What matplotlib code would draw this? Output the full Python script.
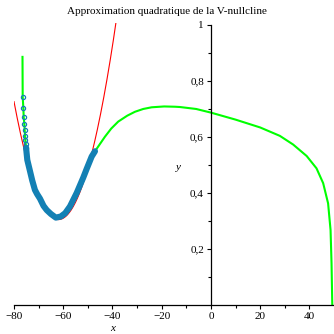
import numpy as np
import matplotlib
matplotlib.use("Agg")
import matplotlib.pyplot as plt

# V-nullcline w(V), sampled along the curve
nullcline_v = [-76.55, -76.47, -76.2, -76.06, -75.8, -75.65, -75.53, -75.4, -75.24, -75.1,
               -74.6, -73.5, -72.6, -71.5, -70.6, -69.45, -68.0, -66.7, -65.0, -63.0,
               -61.0, -59.2, -57.26, -54.54, -51.86, -50.48, -48.45, -47.1, -45.0, -43.05,
               -40.5, -37.65, -34.0, -30.86, -27.5, -24.08, -19.0, -14.6, -12.6, -6.0,
               0.0, 10.0, 20.0, 28.0, 33.4, 38.9, 42.9, 45.6, 47.6, 48.6, 49.0, 49.3]
nullcline_w = [0.886, 0.744, 0.703, 0.671, 0.646, 0.624, 0.605, 0.589, 0.575, 0.562,
               0.518, 0.478, 0.445, 0.411, 0.396, 0.380, 0.354, 0.339, 0.325, 0.312,
               0.316, 0.328, 0.352, 0.400, 0.455, 0.486, 0.530, 0.549, 0.576, 0.601,
               0.630, 0.655, 0.676, 0.690, 0.700, 0.706, 0.709, 0.708, 0.707, 0.700,
               0.687, 0.662, 0.634, 0.604, 0.573, 0.532, 0.488, 0.435, 0.363, 0.268,
               0.149, 0.0]

# Points of the nullcline used for the fit (sparse at the top, dense below)
fit_sparse_v = [-76.47, -76.2, -76.06, -75.8, -75.65, -75.53, -75.4, -75.24, -75.1]
fit_sparse_w = [0.744, 0.703, 0.671, 0.646, 0.624, 0.605, 0.589, 0.575, 0.562]
fit_dense_v = [-75.1, -74.6, -73.5, -72.6, -71.5, -70.6, -69.45, -68.0, -66.7, -65.0,
               -63.0, -61.0, -59.2, -57.26, -54.54, -51.86, -50.48, -48.45, -47.1]
fit_dense_w = [0.562, 0.518, 0.478, 0.445, 0.411, 0.396, 0.380, 0.354, 0.339, 0.325,
               0.312, 0.316, 0.328, 0.352, 0.400, 0.455, 0.486, 0.530, 0.549]

# Quadratic approximation w = a (V - v0)^2 + w0
quad_a = 0.00129
quad_v0 = -61.93
quad_w0 = 0.305

x_ticks = [-80, -60, -40, -20, 0, 20, 40]
x_tick_labels = ["\u221280", "\u221260", "\u221240", "\u221220", "0", "20", "40"]
x_minor = [-70, -50, -30, -10, 10, 30]
y_ticks = [0.2, 0.4, 0.6, 0.8, 1.0]
y_tick_labels = ["0,2", "0,4", "0,6", "0,8", "1"]
y_minor = [0.1, 0.3, 0.5, 0.7, 0.9]

plt.rcParams["font.family"] = ["Liberation Serif", "DejaVu Serif"]

W, H = 334, 334
fig = plt.figure(figsize=(W / 100, H / 100), dpi=100)
ax = fig.add_axes([14 / W, (H - 305) / H, (W - 14) / W, 282 / H])
ax.set_xlim(-80, 50)
ax.set_ylim(0, 1.007)

ax.plot(nullcline_v, nullcline_w, color="#00ff00", lw=1.5, zorder=2)

vq = np.linspace(-80, 50, 600)
ax.plot(vq, quad_a * (vq - quad_v0) ** 2 + quad_w0, color="#ff0000", lw=0.8, zorder=3)

blue = "#1380b4"
ax.plot(fit_dense_v, fit_dense_w, color=blue, lw=4.4, solid_capstyle="round",
        solid_joinstyle="round", zorder=4)
ax.plot(fit_sparse_v, fit_sparse_w, linestyle="none", marker="o", ms=3.0,
        mfc="none", mec=blue, mew=0.9, zorder=4)

# Axes through the origin
for side in ("top", "right"):
    ax.spines[side].set_visible(False)
ax.spines["left"].set_position(("data", 0))
ax.spines["bottom"].set_position(("data", 0))
ax.spines["left"].set_bounds(0, 1)
ax.spines["left"].set_linewidth(0.9)
ax.spines["bottom"].set_linewidth(0.9)

ax.set_xticks(x_ticks)
ax.set_xticklabels(x_tick_labels)
ax.set_xticks(x_minor, minor=True)
ax.set_yticks(y_ticks)
ax.set_yticklabels(y_tick_labels)
ax.set_yticks(y_minor, minor=True)
ax.tick_params(which="major", direction="out", length=3, width=0.8,
               labelsize=8, pad=2)
ax.tick_params(which="minor", direction="out", length=2, width=0.8)

fig.text(167 / W, 1 - 12 / H, "Approximation quadratique de la V-nullcline",
         ha="center", va="center", fontsize=8)
fig.text(113 / W, 1 / H, "x", ha="center", va="bottom", fontsize=8, style="italic")
fig.text(178 / W, 1 - 168 / H, "y", ha="center", va="center", fontsize=8, style="italic")

fig.savefig("out.png", dpi=100)
